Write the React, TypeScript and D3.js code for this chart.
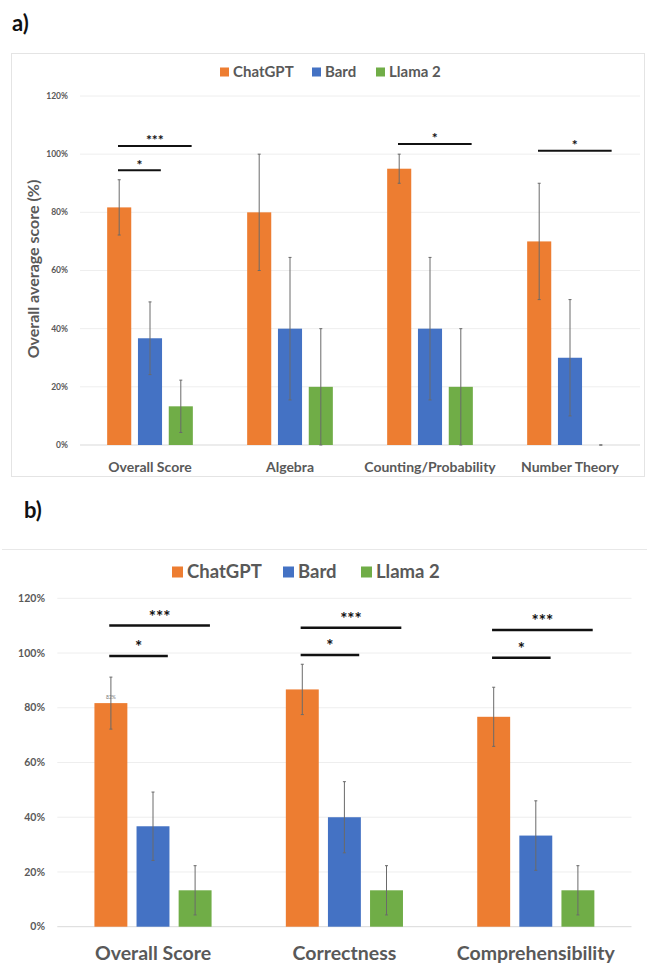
import React from 'react';
import * as d3 from 'd3';

const series = ['ChatGPT', 'Bard', 'Llama 2'];
const colors = ['#ED7D31', '#4472C4', '#70AD47'];

// panel a
const categoriesA = ['Overall Score', 'Algebra', 'Counting/Probability', 'Number Theory'];
const chatgptA = [81.7, 80, 95, 70];
const bardA = [36.7, 40, 40, 30];
const llamaA = [13.3, 20, 20, 0];
const chatgptErrA = [9.5, 20, 5, 20];
const bardErrA = [12.5, 24.5, 24.5, 20];
const llamaErrA = [9, 20, 20, 0];
const sigA = [
  { cat: 'Overall Score', from: 'ChatGPT', to: 'Llama 2', label: '***', level: 102.8 },
  { cat: 'Overall Score', from: 'ChatGPT', to: 'Bard', label: '*', level: 94.5 },
  { cat: 'Counting/Probability', from: 'ChatGPT', to: 'Llama 2', label: '*', level: 103.5 },
  { cat: 'Number Theory', from: 'ChatGPT', to: 'Llama 2', label: '*', level: 101.2 },
];

// panel b
const categoriesB = ['Overall Score', 'Correctness', 'Comprehensibility'];
const chatgptB = [81.7, 86.7, 76.7];
const bardB = [36.7, 40, 33.3];
const llamaB = [13.3, 13.3, 13.3];
const chatgptErrB = [9.5, 9.2, 10.8];
const bardErrB = [12.5, 13, 12.7];
const llamaErrB = [9, 9, 9];
const sigB = [
  { cat: 'Overall Score', from: 'ChatGPT', to: 'Llama 2', label: '***', level: 110.1 },
  { cat: 'Overall Score', from: 'ChatGPT', to: 'Bard', label: '*', level: 98.9 },
  { cat: 'Correctness', from: 'ChatGPT', to: 'Llama 2', label: '***', level: 109.2 },
  { cat: 'Correctness', from: 'ChatGPT', to: 'Bard', label: '*', level: 99.3 },
  { cat: 'Comprehensibility', from: 'ChatGPT', to: 'Llama 2', label: '***', level: 108.4 },
  { cat: 'Comprehensibility', from: 'ChatGPT', to: 'Bard', label: '*', level: 98.3 },
];

const yTicks = [0, 20, 40, 60, 80, 100, 120];
const FONT = 'Lato, "Open Sans", sans-serif';
const GREY = '#595959';

interface PanelProps {
  categories: string[];
  values: number[][];
  errors: number[][];
  sig: { cat: string; from: string; to: string; label: string; level: number }[];
  x0: number; x1: number; y0: number; y1: number;
  tickX: number; tickSize: number; catSize: number; catY: number;
  legendXs: number[]; legendY: number; legendSize: number; legendBox: number;
  sigWidth: number; starSize: number; starGap: number;
  valueLabel?: { cat: number; text: string };
}

const Panel: React.FC<PanelProps> = (p) => {
  const x = d3.scaleBand().domain(p.categories).range([p.x0, p.x1]);
  const step = x.bandwidth();
  const inner = d3.scaleBand().domain(series)
    .range([0.194 * step, 0.806 * step]).paddingInner(0.218);
  const bw = inner.bandwidth();
  const y = d3.scaleLinear().domain([0, 120]).range([p.y0, p.y1]);
  const cx = (cat: string, s: string) => (x(cat) || 0) + (inner(s) || 0) + bw / 2;

  return (
    <g>
      {yTicks.map(t => (
        <g key={t}>
          <line x1={p.x0} x2={p.x1} y1={y(t)} y2={y(t)}
            stroke={t === 0 ? '#d9d9d9' : '#eeeeee'} strokeWidth={1} />
          <text x={p.tickX} y={y(t)} dy="0.35em" textAnchor="end"
            fontSize={p.tickSize} fontWeight={700} fill={GREY} fontFamily={FONT}>{t}%</text>
        </g>
      ))}
      {p.categories.map((c, ci) => (
        <g key={c}>
          {series.map((s, si) => {
            const v = p.values[si][ci];
            const e = p.errors[si][ci];
            const bx = (x(c) || 0) + (inner(s) || 0);
            const mx = bx + bw / 2;
            const hi = y(Math.min(120, v + e));
            const lo = y(Math.max(0, v - e));
            return (
              <g key={s}>
                {v > 0 && <rect x={bx} y={y(v)} width={bw} height={y(0) - y(v)} fill={colors[si]} />}
                <line x1={mx} x2={mx} y1={hi} y2={lo} stroke="#6a6a6a" strokeWidth={1} />
                <line x1={mx - 1.5} x2={mx + 1.5} y1={hi} y2={hi} stroke="#6a6a6a" strokeWidth={1} />
                <line x1={mx - 1.5} x2={mx + 1.5} y1={lo} y2={lo} stroke="#6a6a6a" strokeWidth={1} />
              </g>
            );
          })}
          <text x={(x(c) || 0) + step / 2} y={p.catY} textAnchor="middle"
            fontSize={p.catSize} fontWeight={700} fill={GREY} fontFamily={FONT}>{c}</text>
        </g>
      ))}
      {p.valueLabel && (
        <text x={cx(p.categories[p.valueLabel.cat], 'ChatGPT')}
          y={y(p.values[0][p.valueLabel.cat]) - 4} textAnchor="middle"
          fontSize={5} fill="#777" fontFamily={FONT}>{p.valueLabel.text}</text>
      )}
      {p.sig.map((a, i) => {
        const xa = cx(a.cat, a.from) - 0.05 * bw;
        const xb = cx(a.cat, a.to) + 0.45 * bw;
        const ly = y(a.level);
        return (
          <g key={i}>
            <line x1={xa} x2={xb} y1={ly} y2={ly} stroke="#111" strokeWidth={p.sigWidth} />
            <text x={(xa + xb) / 2} y={ly - p.starGap + 0.55 * p.starSize} textAnchor="middle"
              fontSize={p.starSize} fontWeight={700} fill="#111" fontFamily={FONT}>{a.label}</text>
          </g>
        );
      })}
      {series.map((s, si) => (
        <g key={s}>
          <rect x={p.legendXs[si]} y={p.legendY - p.legendBox / 2} width={p.legendBox} height={p.legendBox} fill={colors[si]} />
          <text x={p.legendXs[si] + p.legendBox + 4} y={p.legendY} dy="0.35em"
            fontSize={p.legendSize} fontWeight={700} fill={GREY} fontFamily={FONT}>{s}</text>
        </g>
      ))}
    </g>
  );
};

export default function App() {
  return (
    <svg width={647} height={966} style={{ position: 'absolute', left: 0, top: 0, background: '#fff' }}>
      <rect width={647} height={966} fill="#fff" />
      <text x={12} y={31} fontSize={22} fontWeight={700} fill="#111" fontFamily={FONT}>a)</text>
      <rect x={11.5} y={53.5} width={633} height={423} fill="none" stroke="#e4e4e4" />
      <text x={33} y={269} transform="rotate(-90 33 269)" textAnchor="middle" dy="0.35em"
        fontSize={16} fontWeight={700} fill={GREY} fontFamily={FONT}>Overall average score (%)</text>
      <Panel categories={categoriesA}
        values={[chatgptA, bardA, llamaA]} errors={[chatgptErrA, bardErrA, llamaErrA]} sig={sigA}
        x0={80} x1={640} y0={445} y1={96}
        tickX={68} tickSize={8.5} catSize={14} catY={472}
        legendXs={[220, 312, 376]} legendY={72} legendSize={15} legendBox={9}
        sigWidth={2} starSize={14} starGap={8.3} />
      <text x={24} y={518} fontSize={22} fontWeight={700} fill="#111" fontFamily={FONT}>b)</text>
      <line x1={2} x2={647} y1={549.5} y2={549.5} stroke="#e8e8e8" />
      <Panel categories={categoriesB}
        values={[chatgptB, bardB, llamaB]} errors={[chatgptErrB, bardErrB, llamaErrB]} sig={sigB}
        x0={57.3} x1={631.5} y0={926.7} y1={598.3}
        tickX={45} tickSize={10.5} catSize={19.5} catY={960}
        legendXs={[172, 283, 361]} legendY={572} legendSize={18.5} legendBox={11}
        sigWidth={2.5} starSize={17} starGap={12} valueLabel={{ cat: 0, text: '82%' }} />
    </svg>
  );
}
